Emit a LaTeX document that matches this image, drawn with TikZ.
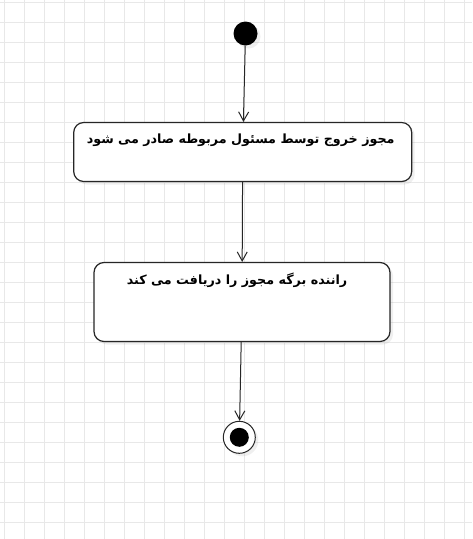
\documentclass[tikz,border=0pt]{standalone}
\usepackage{fontspec}
\newfontfamily\farsifont[Script=Arabic]{DejaVu Sans}
\TeXXeTstate=1
\usetikzlibrary{arrows.meta,shadows}

\begin{document}
\begin{tikzpicture}[x=1pt,y=-1pt,
  thick,
  gridline/.style={draw=black!9,line width=0.8pt},
  soft shadow/.style={drop shadow={opacity=0.12,shadow xshift=3pt,shadow yshift=-3pt}},
  start node/.style={circle,fill=black,minimum size=24pt,inner sep=0pt,soft shadow},
  end node/.style={circle,draw=black!85,line width=1pt,fill=white,minimum size=32pt,inner sep=0pt,soft shadow,
    path picture={\fill[black] (path picture bounding box.center) circle (9.5pt);}},
  act node/.style={rectangle,rounded corners=10pt,draw=black!85,line width=1.2pt,fill=white,inner sep=0pt,soft shadow},
  act text/.style={font=\farsifont\bfseries\fontsize{12.7}{15}\selectfont,anchor=north,yshift=-11pt,inner sep=0pt},
  flow/.style={draw=black!85,line width=1pt,-{Straight Barb[length=9pt,width=10pt,line width=1pt]}}]

  \useasboundingbox (0,0) rectangle (472,539);
  \fill[white] (0,0) rectangle (472,539);
  \foreach \gx in {4.5,24.5,...,470} \draw[gridline] (\gx,0) -- (\gx,539);
  \foreach \gy in {2.7,22.7,...,539} \draw[gridline] (0,\gy) -- (472,\gy);

  \node[start node] (init) at (245.5,33.5) {};
  \node[act node,minimum width=338pt,minimum height=59pt,
    label={[act text,xshift=-2pt,yshift=-1pt]north:{\beginR مجوز خروج توسط مسئول مربوطه صادر می شود\endR}}] (issue) at (242.7,152) {};
  \node[act node,minimum width=296pt,minimum height=79pt,
    label={[act text,xshift=-5pt]north:{\beginR راننده برگه مجوز را دریافت می کند\endR}}] (receive) at (242,302) {};
  \node[end node] (final) at (239.3,437.3) {};

  \path[flow]
    (init) edge (issue)
    (issue) edge (receive)
    (receive) edge (final);
\end{tikzpicture}
\end{document}
